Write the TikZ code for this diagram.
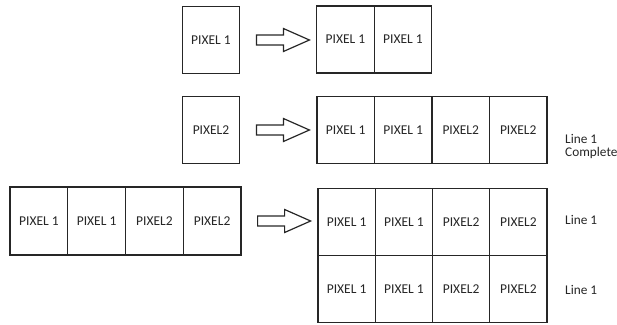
\documentclass[tikz,border=0pt]{standalone}
\usepackage{fontspec}
\setmainfont{Carlito}
\usetikzlibrary{calc}
\begin{document}
\begin{tikzpicture}[x=1pt,y=-1pt,
  cell/.style={draw=black!85, line width=1.3pt, minimum width=57.5pt,
    minimum height=67pt, inner sep=0pt, text=black!85,
    font=\fontsize{13.5}{15}\selectfont},
  lbl/.style={anchor=west, inner sep=0pt, align=left, text=black!85,
    font=\fontsize{13.3}{13}\selectfont},
  pics/blockarrow/.style={code={
    \draw[draw=black!85, line width=1.2pt, line join=miter]
      (0,-5) -- (27,-5) -- (27,-11.5) -- (53,0) -- (27,11.5) -- (27,5) -- (0,5) -- cycle;}}
]
\useasboundingbox (0,0) rectangle (617,324);

% first step: one pixel becomes two
\node[cell] (a1) at (211,40) {PIXEL 1};
\node[cell] (ra1) at (345.5,39.5) {PIXEL 1};
\node[cell] (ra2) at (403,39.5) {PIXEL 1};
\pic at ($(a1.east)+(16,0)$) {blockarrow};

% second step: second pixel completes the line
\node[cell] (b1) at (211,130) {PIXEL2};
\node[cell] (rb1) at (345.75,130) {PIXEL 1};
\node[cell] (rb2) at (403.25,130) {PIXEL 1};
\node[cell] (rb3) at (460.75,130) {PIXEL2};
\node[cell] (rb4) at (518.25,130) {PIXEL2};
\pic at ($(b1.east)+(16,0)$) {blockarrow};
\node[lbl] (lb) at (565,146) {Line 1\\Complete};

% third step: the completed line is doubled
\node[cell, minimum width=57.75pt, minimum height=68pt] (c1) at (38.9,221) {PIXEL 1};
\node[cell, minimum width=57.75pt, minimum height=68pt] (c2) at (96.6,221) {PIXEL 1};
\node[cell, minimum width=57.75pt, minimum height=68pt] (c3) at (154.4,221) {PIXEL2};
\node[cell, minimum width=57.75pt, minimum height=68pt] (c4) at (212.1,221) {PIXEL2};
\pic at ($(c4.east)+(16,0)$) {blockarrow};

\foreach \i/\t [count=\k] in {346.6/PIXEL 1,403.9/PIXEL 1,461.1/PIXEL2,518.4/PIXEL2}{
  \node[cell, minimum width=57.25pt] (d\k) at (\i,222) {\t};
  \node[cell, minimum width=57.25pt] (e\k) at (\i,289) {\t};
}
\node[lbl] (ld) at (565,220) {Line 1};
\node[lbl] (le) at (565,290) {Line 1};
\end{tikzpicture}
\end{document}
